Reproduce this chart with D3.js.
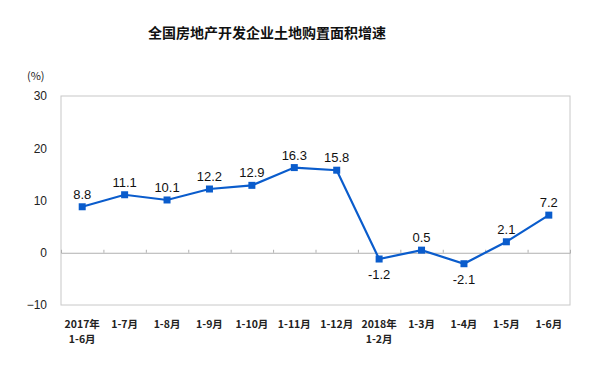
<!DOCTYPE html>
<html><head><meta charset="utf-8">
<script src="https://cdn.jsdelivr.net/npm/d3@7"></script>
<style>body{margin:0;background:#fff;}svg{display:block;}</style>
</head><body>
<svg id="c" width="600" height="367"></svg>
<script>
const categories = ["2017年\n1-6月","1-7月","1-8月","1-9月","1-10月","1-11月","1-12月","2018年\n1-2月","1-3月","1-4月","1-5月","1-6月"];
const values = [8.8,11.1,10.1,12.2,12.9,16.3,15.8,-1.2,0.5,-2.1,2.1,7.2];
const yTicks = [-10,0,10,20,30];
const title = "全国房地产开发企业土地购置面积增速";
const unit = "(%)";

const svg = d3.select("#c");
const L=61, R=570, T=96, B=305;
const x = d3.scaleBand().domain(d3.range(categories.length)).range([L,R]);
const y = d3.scaleLinear().domain([-10,30]).range([B,T]);

svg.append("text").attr("x",267).attr("y",38).attr("text-anchor","middle")
  .attr("font-family","Noto Sans CJK SC").attr("font-size",14).attr("font-weight","bold").attr("fill","#111").text(title);
svg.append("text").attr("x",27).attr("y",80).attr("font-family","Noto Sans CJK SC").attr("font-size",11).attr("fill","#222").text(unit);

svg.append("rect").attr("x",L).attr("y",T).attr("width",R-L).attr("height",B-T)
  .attr("fill","none").attr("stroke","#c8c8c8").attr("stroke-width",1);

// y axis labels
const ya = svg.append("g").attr("transform",`translate(${L},0)`)
  .call(d3.axisLeft(y).tickValues(yTicks).tickSize(0).tickPadding(14));
ya.select(".domain").remove();
ya.selectAll("text").attr("font-family","Liberation Sans, Arial").attr("font-size",12).attr("fill","#222");

// zero line with ticks
const xa = svg.append("g").attr("transform",`translate(0,${y(0)})`)
  .call(d3.axisTop(d3.scaleLinear().domain([0,categories.length]).range([L,R]))
    .tickValues(d3.range(1,categories.length)).tickSize(3).tickFormat(""));
xa.select(".domain").attr("stroke","#b0b0b0");
xa.selectAll(".tick line").attr("stroke","#b0b0b0");

// x labels
const xl = svg.append("g");
categories.forEach((c,i)=>{
  const t = xl.append("text").attr("x",x(i)+x.bandwidth()/2).attr("y",328)
    .attr("text-anchor","middle").attr("font-family","Noto Sans CJK SC").attr("font-size",10.5)
    .attr("font-weight","bold").attr("fill","#222");
  c.split("\n").forEach((s,k)=>t.append("tspan").attr("x",x(i)+x.bandwidth()/2).attr("dy",k?15:0).text(s));
});

const cx = i=>x(i)+x.bandwidth()/2;
svg.append("path").datum(values)
  .attr("d",d3.line().x((d,i)=>cx(i)).y(d=>y(d)))
  .attr("fill","none").attr("stroke","#0a5ccc").attr("stroke-width",2.2);
svg.selectAll("rect.m").data(values).join("rect").attr("class","m")
  .attr("x",(d,i)=>cx(i)-3.5).attr("y",d=>y(d)-3.5).attr("width",7).attr("height",7).attr("fill","#0a5ccc");
svg.selectAll("text.v").data(values).join("text").attr("class","v")
  .attr("x",(d,i)=>cx(i)).attr("y",d=>d<0? y(d)+20 : y(d)-8)
  .attr("text-anchor","middle").attr("font-family","Liberation Sans, Arial").attr("font-size",13).attr("fill","#111")
  .text(d=>d.toFixed(1));
</script>
</body></html>
